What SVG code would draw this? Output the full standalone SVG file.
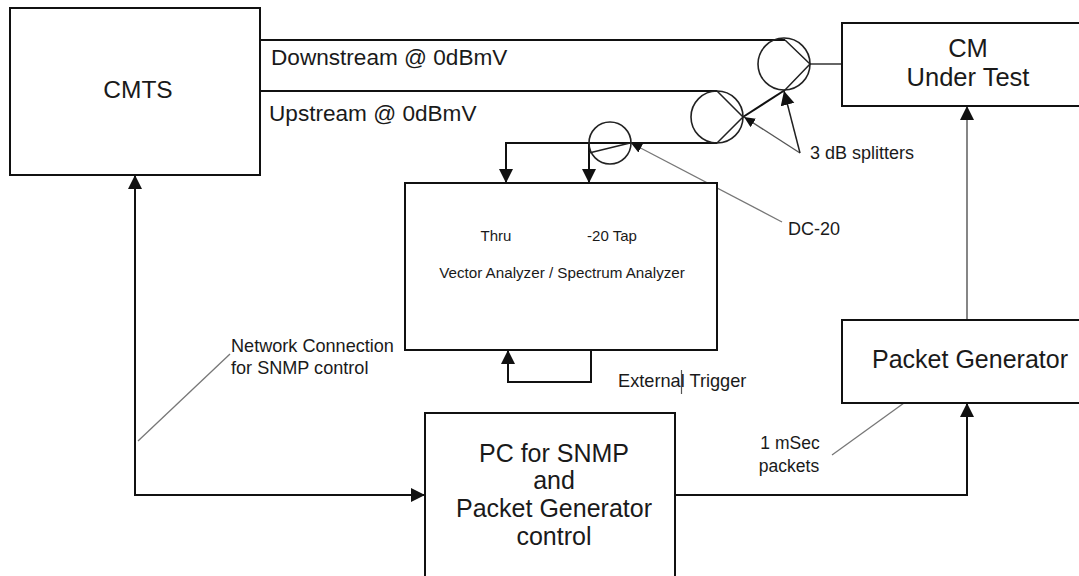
<svg xmlns="http://www.w3.org/2000/svg" width="1079" height="576" viewBox="0 0 1079 576">
<style>
text{font-family:"Liberation Sans",Arial,sans-serif;fill:#1a1a1a}
.b{fill:#fff;stroke:#111;stroke-width:2}
.c{fill:none;stroke:#111;stroke-width:2}
.t{fill:none;stroke:#222;stroke-width:1.500}
.g{fill:none;stroke:#777;stroke-width:1.300}
.d{fill:none;stroke:#222;stroke-width:1.600}
.m{text-anchor:middle}
</style>
<defs>
<marker id="a" markerUnits="userSpaceOnUse" markerWidth="16" markerHeight="16" refX="14" refY="7" orient="auto"><path d="M0 0L14 7L0 14Z" fill="#111"/></marker>
<marker id="s" markerUnits="userSpaceOnUse" markerWidth="12" markerHeight="10" refX="11" refY="5" orient="auto"><path d="M0 0L11 5L0 10Z" fill="#111"/></marker>
</defs>
<rect width="1079" height="576" fill="#fff"/>
<g id="connectors">
<path class="c" d="M260 40H785"/>
<path class="c" d="M260 91H717"/>
<path class="t" d="M785 40L810 64L785 90"/>
<path class="c" d="M785 90L743 117"/>
<path class="t" d="M717 91L743 117L717 143"/>
<path class="c" d="M717 143H506V183" marker-end="url(#a)"/>
<path class="c" d="M589 143V183" marker-end="url(#a)"/>
<path class="t" d="M589 153L630 143"/>
<path class="t" d="M810 64H842" style="stroke:#333"/>
<path class="c" d="M591 350V382H508V350" marker-end="url(#a)"/>
<path class="c" d="M135 175V495H425" marker-end="url(#a)"/>
<path class="c" d="M135 495V175" marker-end="url(#a)"/>
<path class="c" d="M676 495H967V403" marker-end="url(#a)"/>
<path class="g" d="M967 320V106" style="stroke:#444" marker-end="url(#a)"/>
<path class="g" d="M800 153L744 117" style="stroke:#555" marker-end="url(#s)"/>
<path class="t" d="M800 153L784 91" marker-end="url(#a)"/>
<path class="g" d="M782 222L631 143" marker-end="url(#s)"/>
<path class="g" d="M138 441L230 354"/>
<path class="g" d="M832 455L904 403"/>
<path d="M681.500 370V394" stroke="#555" stroke-width="1.200"/>
</g>
<g id="cmts"><rect class="b" x="10" y="8" width="250" height="167"/><text class="m" x="138" y="98" font-size="24.500">CMTS</text></g>
<g id="cm"><rect class="b" x="842" y="23" width="240" height="83"/><text class="m" x="968" y="57" font-size="25.500">CM</text><text class="m" x="968" y="86" font-size="25.500">Under Test</text></g>
<g id="analyzer"><rect class="b" x="405" y="183" width="312" height="167"/><text class="m" x="496" y="241" font-size="15">Thru</text><text class="m" x="612" y="241" font-size="15">-20 Tap</text><text class="m" x="562" y="278" font-size="15.200">Vector Analyzer / Spectrum Analyzer</text></g>
<g id="packet-generator"><rect class="b" x="842" y="320" width="240" height="83"/><text class="m" x="970" y="368" font-size="25">Packet Generator</text></g>
<g id="pc"><rect class="b" x="425" y="413" width="250" height="170"/><text class="m" x="554" y="462" font-size="25">PC for SNMP</text><text class="m" x="554" y="489" font-size="25">and</text><text class="m" x="554" y="517" font-size="25">Packet Generator</text><text class="m" x="554" y="545" font-size="25">control</text></g>
<g id="splitter-1"><circle class="d" cx="784" cy="64" r="26"/></g>
<g id="splitter-2"><circle class="d" cx="717" cy="117" r="26"/></g>
<g id="dc-20"><circle class="d" cx="610" cy="143" r="21"/></g>
<g id="labels" font-size="18">
<text x="271" y="65" font-size="22.600">Downstream @ 0dBmV</text>
<text x="269" y="121" font-size="22.600">Upstream @ 0dBmV</text>
<text x="810" y="159">3 dB splitters</text>
<text x="788" y="235">DC-20</text>
<text x="618" y="387" font-size="18.200">External Trigger</text>
<text x="231" y="352" font-size="18.100">Network Connection</text>
<text x="231" y="374" font-size="18.100">for SNMP control</text>
<text class="m" x="790" y="449" font-size="17.500">1 mSec</text>
<text class="m" x="789" y="472" font-size="17.500">packets</text>
</g>
</svg>
